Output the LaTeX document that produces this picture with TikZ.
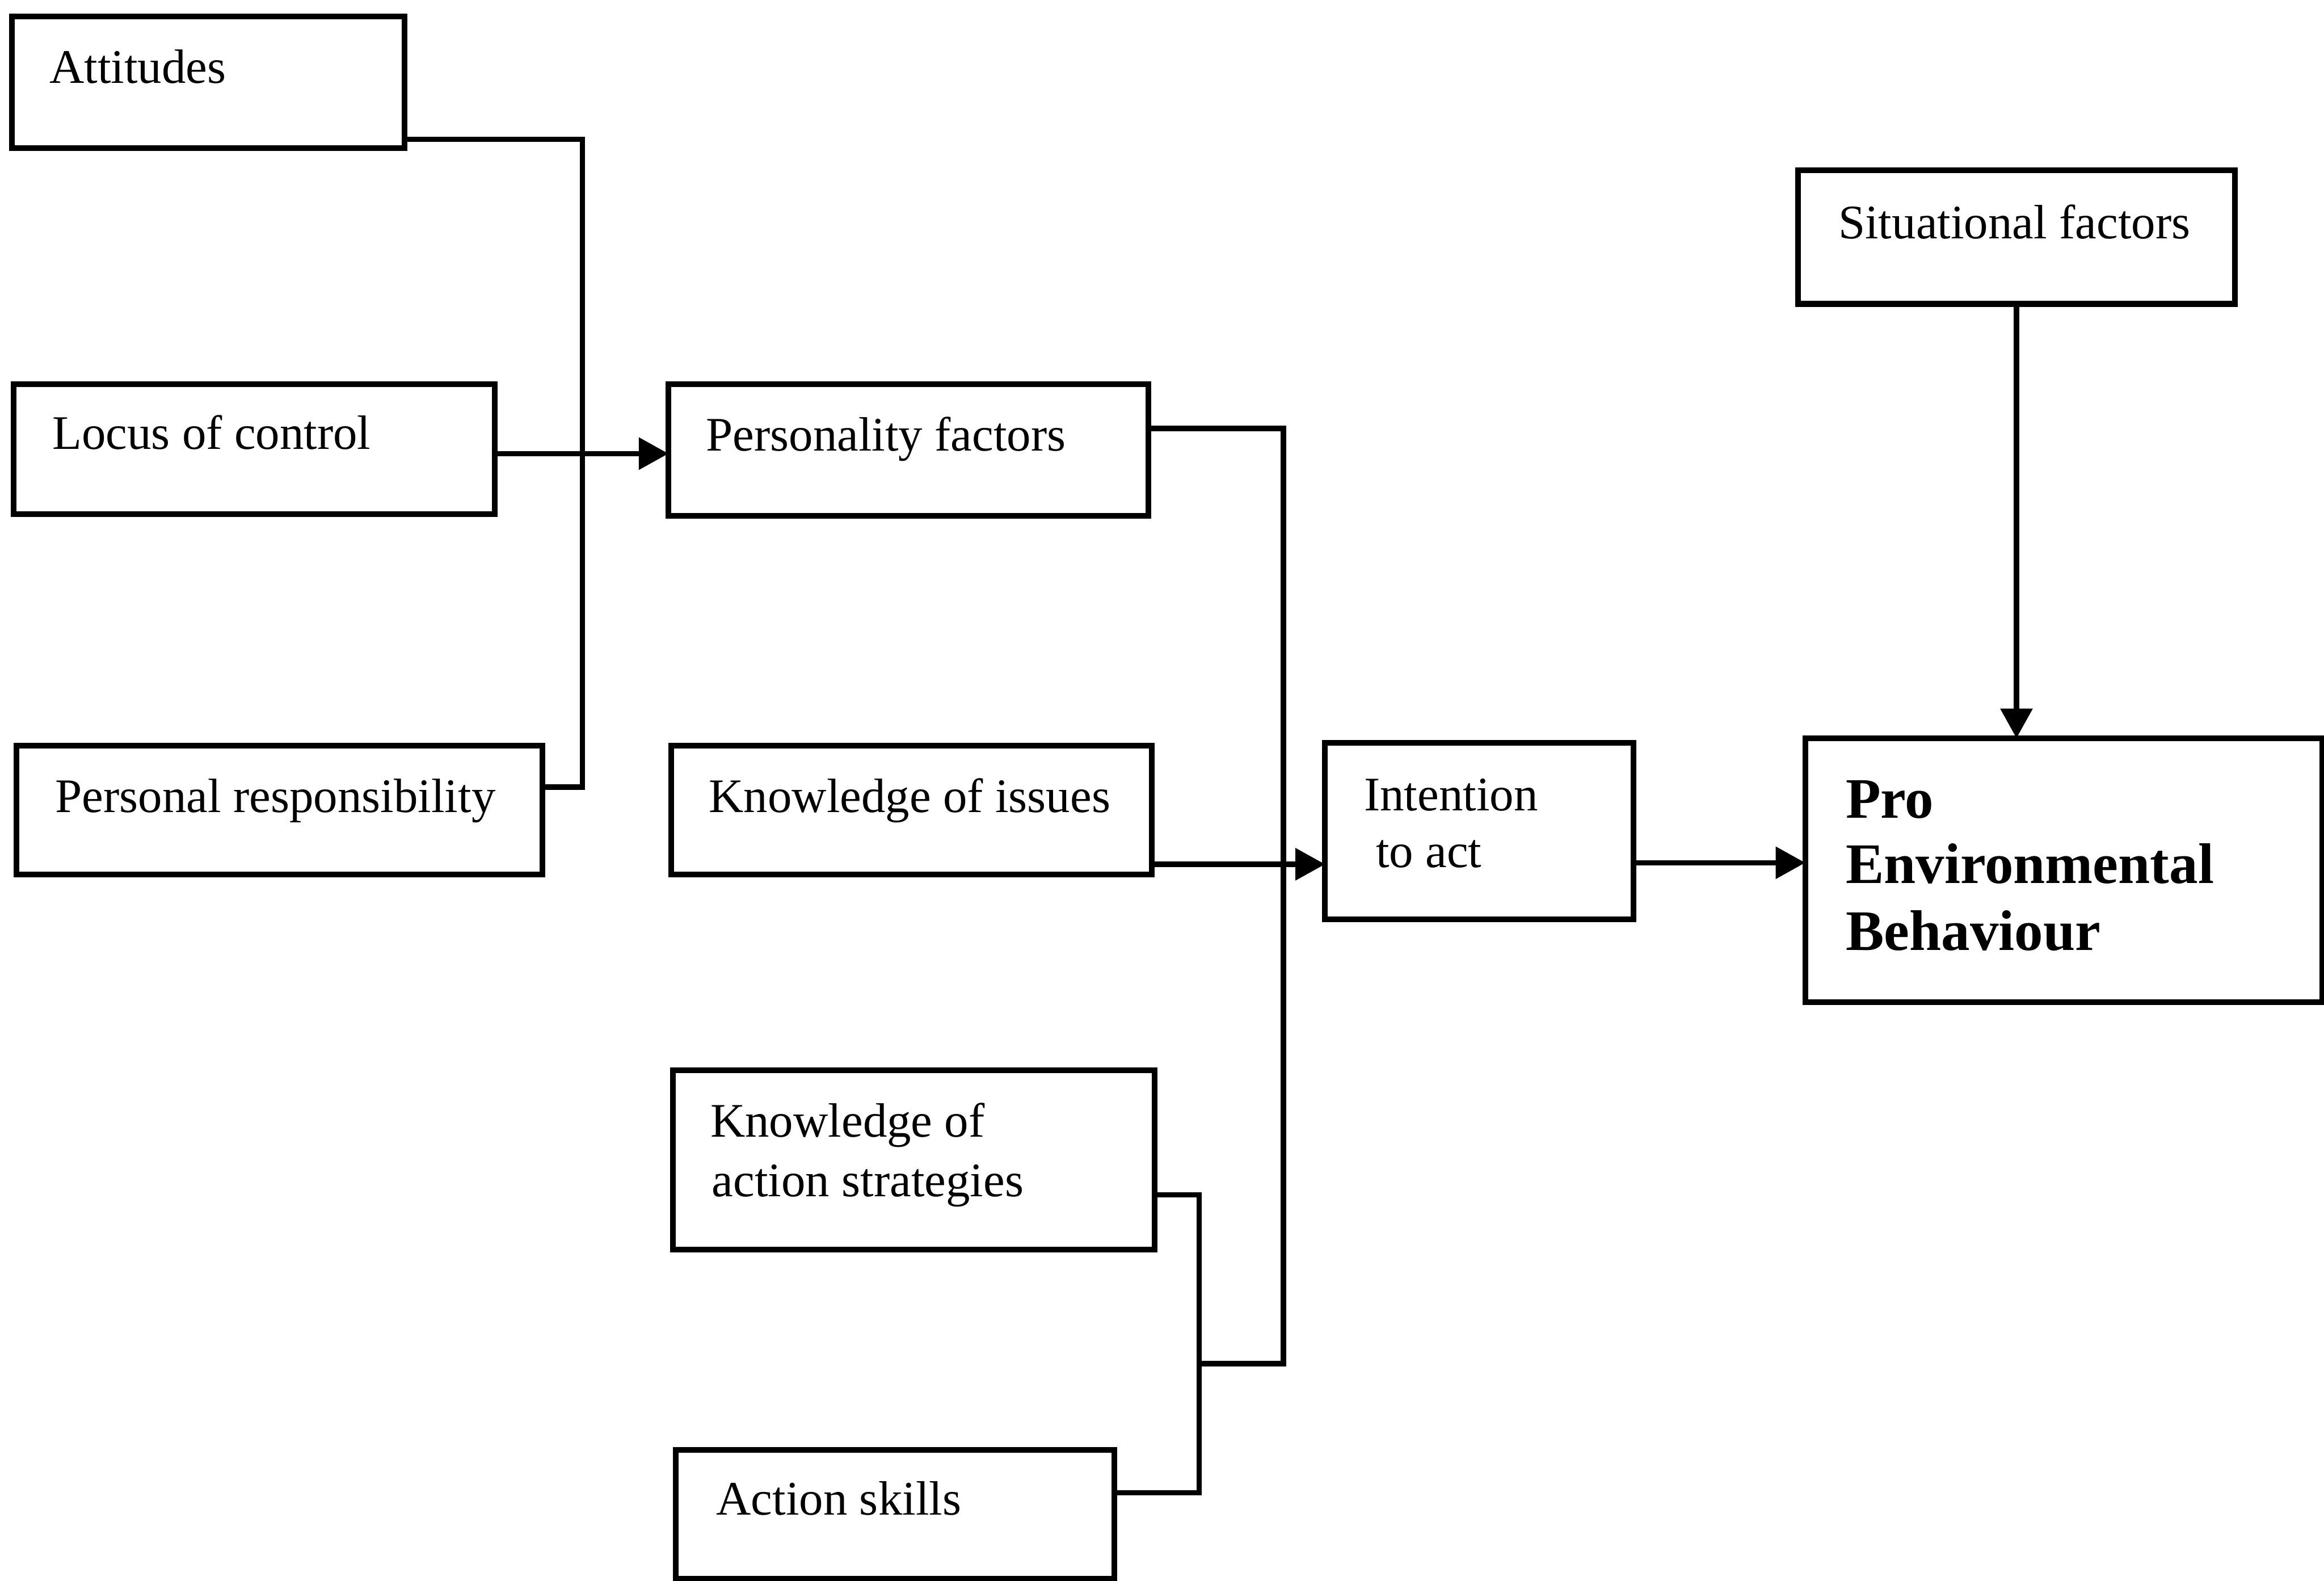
\documentclass[tikz,border=0pt]{standalone}
\usepackage{fontspec}
\setmainfont{Liberation Serif}
\usetikzlibrary{arrows.meta}

\tikzset{
  box/.style={draw, line width=2.2pt, rectangle, inner sep=0pt, outer sep=0pt},
  lbl/.style={anchor=base west, inner sep=0pt, font=\fontsize{18.5}{22}\selectfont},
  blbl/.style={anchor=base west, inner sep=0pt, font=\fontsize{22}{25}\selectfont\bfseries},
  wire/.style={line width=2.1pt},
  arr/.style={line width=2.1pt, -{Triangle[length=0.4cm, width=0.42cm]}},
}

\begin{document}
\begin{tikzpicture}[x=0.02cm, y=-0.02cm]
\useasboundingbox (0,0) rectangle (1568,1066.5);
\clip (0,0) rectangle (1568,1066.5);

% boxes
\node[box, minimum width=5.30cm, minimum height=1.78cm] (att)  at (140.5, 55.5) {};
\node[box, minimum width=6.50cm, minimum height=1.76cm] (loc)  at (171.5, 303) {};
\node[box, minimum width=7.10cm, minimum height=1.74cm] (pers) at (188.5, 546.5) {};
\node[box, minimum width=6.48cm, minimum height=1.78cm] (pf)   at (613, 303.5) {};
\node[box, minimum width=6.48cm, minimum height=1.74cm] (ki)   at (615, 546.5) {};
\node[box, minimum width=6.50cm, minimum height=2.42cm] (kas)  at (616.5, 782.5) {};
\node[box, minimum width=5.92cm, minimum height=1.74cm] (as)   at (604, 1021.5) {};
\node[box, minimum width=4.16cm, minimum height=2.38cm] (int)  at (998, 560.5) {};
\node[box, minimum width=5.90cm, minimum height=1.80cm] (sit)  at (1360.5, 160) {};
\node[box, minimum width=6.98cm, minimum height=3.56cm] (peb)  at (1392.5, 587) {};

% labels
\node[lbl] (attT)  at (33, 56)   {Attitudes};
\node[lbl] (locT)  at (35, 303)  {Locus of control};
\node[lbl] (persT) at (37, 548)  {Personal responsibility};
\node[lbl] (pfT)   at (476, 304) {Personality factors};
\node[lbl] (kiT)   at (478, 548) {Knowledge of issues};
\node[lbl] (kasTa) at (479, 767) {Knowledge of};
\node[lbl] (kasTb) at (480, 807) {action strategies};
\node[lbl] (asT)   at (483, 1022) {Action skills};
\node[lbl] (intTa) at (920, 547) {Intention};
\node[lbl] (intTb) at (928, 585) {to act};
\node[lbl] (sitT)  at (1240, 161) {Situational factors};
\node[blbl] (pebTa) at (1245, 552) {Pro};
\node[blbl] (pebTb) at (1245, 596) {Environmental};
\node[blbl] (pebTc) at (1245, 641) {Behaviour};

% junction points of the connectors
\coordinate (b1) at (393, 94);
\coordinate (b2) at (393, 531);
\coordinate (g1) at (393, 306);
\coordinate (c1) at (866, 289);
\coordinate (c2) at (866, 920);
\coordinate (d1) at (809, 806);
\coordinate (d2) at (809, 1007);
\coordinate (d3) at (809, 920);
\coordinate (e1) at (866, 583);
\coordinate (f1) at (1160, 582);

% attitudes / locus / responsibility -> personality factors
\draw[wire] (att.east |- b1) -- (b1) -- (b2) -- (pers.east |- b2);
\draw[arr] (loc.east |- g1) -- (pf.west |- g1);

% personality, knowledge and skills -> intention
\draw[wire] (pf.east |- c1) -- (c1) -- (c2) -- (d3);
\draw[wire] (kas.east |- d1) -- (d1) -- (d2) -- (as.east |- d2);
\draw[arr] (ki.east |- e1) -- (int.west |- e1);

% intention and situation -> behaviour
\draw[arr] (int.east |- f1) -- (peb.west |- f1);
\draw[arr] (sit.south) -- (sit.south |- peb.north);
\end{tikzpicture}
\end{document}
